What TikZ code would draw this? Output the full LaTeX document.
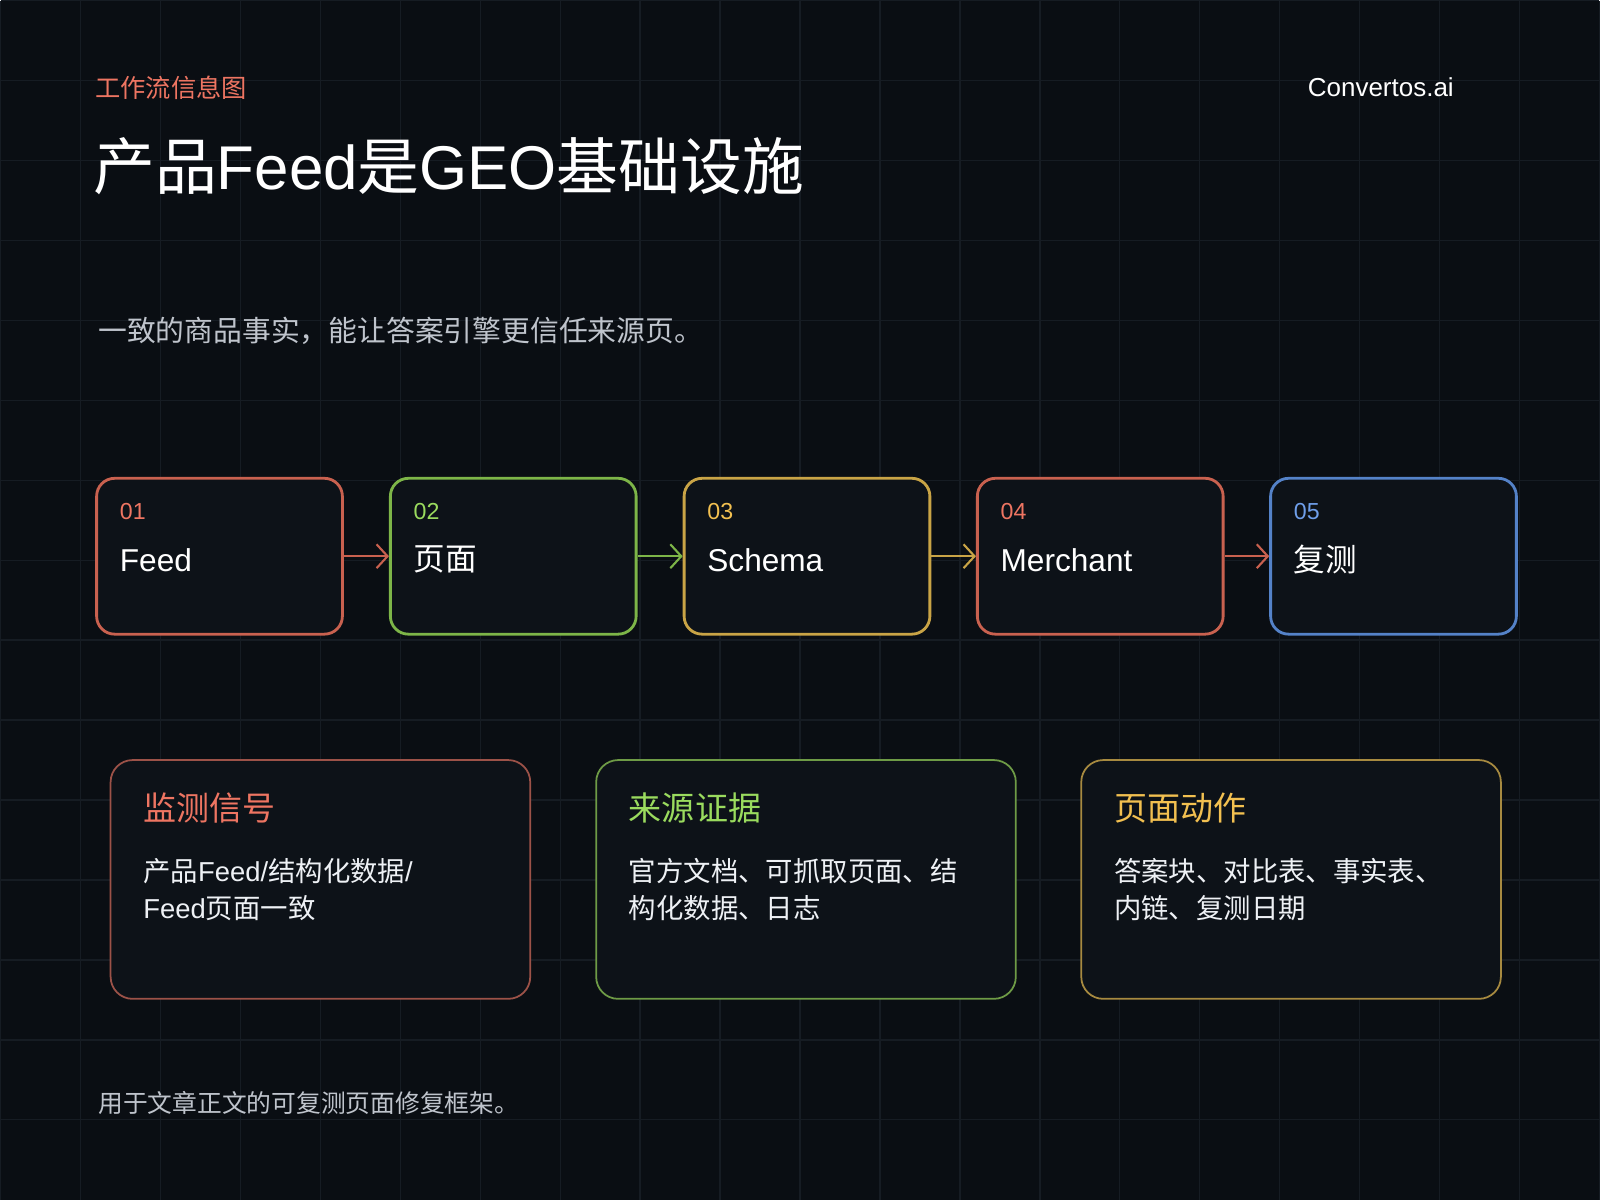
\documentclass[tikz,border=0pt]{standalone}
\usepackage{fontspec}
\setmainfont{Liberation Sans}
\newfontfamily\cjk{Noto Sans CJK SC}
\newcommand{\zh}[1]{{\cjk #1}}
\usetikzlibrary{arrows.meta,positioning,calc}
\definecolor{bgcol}{HTML}{0A0E13}
\definecolor{gridcol}{HTML}{161C23}
\definecolor{boxfill}{HTML}{0D1218}
\definecolor{redline}{HTML}{C9614F}
\definecolor{greenline}{HTML}{7DB548}
\definecolor{yellowline}{HTML}{C9A446}
\definecolor{blueline}{HTML}{5482C8}
\definecolor{redtext}{HTML}{EE7562}
\definecolor{greentext}{HTML}{9ADB5E}
\definecolor{yellowtext}{HTML}{F2C050}
\definecolor{bluetext}{HTML}{6F9FEA}
\definecolor{greytext}{HTML}{BFC4CC}
\definecolor{bodytext}{HTML}{EEF1F5}
\definecolor{cardred}{HTML}{9C5248}
\definecolor{cardgreen}{HTML}{6E9B46}
\definecolor{cardyellow}{HTML}{A78A40}
\tikzset{
  stepbox/.style={rectangle, rounded corners=0.18cm, line width=0.8pt, fill=boxfill,
    minimum width=2.46cm, minimum height=1.56cm},
  card/.style={rectangle, rounded corners=0.22cm, line width=0.5pt, fill=boxfill,
    minimum width=4.2cm, minimum height=2.39cm},
  num/.style={anchor=west, inner sep=0pt, font=\fontsize{6.6}{7}\selectfont},
  steplbl/.style={anchor=west, inner sep=0pt, text=white, font=\fontsize{9.0}{10}\selectfont},
  cardhead/.style={anchor=west, inner sep=0pt, font=\cjk\fontsize{9.4}{11}\selectfont},
  cardbody/.style={anchor=west, inner sep=0pt, align=left, text=bodytext,
    font=\fontsize{7.8}{10.5}\selectfont},
  link/.style={-{Straight Barb[length=1.1mm, width=2.4mm]}, line width=0.6pt},
}
\begin{document}
\begin{tikzpicture}
  % background and grid
  \fill[bgcol] (0,0) rectangle (16,-12);
  \draw[gridcol, line width=0.4pt, step=0.8] (0,0) grid (16,-12);
  \useasboundingbox (0,0) rectangle (16,-12);
  % header
  \node[anchor=west, inner sep=0pt, text=redtext, font=\cjk\fontsize{7.2}{8}\selectfont] (kicker)
    at (0.94,-0.87) {工作流信息图};
  \node[anchor=east, inner sep=0pt, text=white, font=\fontsize{7.4}{9}\selectfont] (brand)
    at (14.55,-0.87) {Convertos.ai};
  \node[anchor=west, inner sep=0pt, text=white, font=\fontsize{17.6}{20}\selectfont] (title)
    at (0.92,-1.66) {\zh{产品}Feed\zh{是}GEO\zh{基础设施}};
  \node[anchor=west, inner sep=0pt, text=greytext, font=\cjk\fontsize{8.2}{9}\selectfont] (lead)
    at (0.97,-3.30) {一致的商品事实，能让答案引擎更信任来源页。};
  % workflow steps
  \foreach \i/\x/\lc/\tc/\lbl in {1/2.19/redline/redtext/Feed, 2/5.13/greenline/greentext/\zh{页面},
      3/8.07/yellowline/yellowtext/Schema, 4/11.005/redline/redtext/Merchant,
      5/13.94/blueline/bluetext/\zh{复测}} {
    \node[stepbox, draw=\lc] (s\i) at (\x,-5.56) {};
    \node[num, text=\tc] (n\i) at ($(s\i.north west)+(0.24,-0.35)$) {0\i};
    \node[steplbl] (l\i) at ($(s\i.north west)+(0.24,-0.83)$) {\lbl};
  }
  \foreach \i/\j/\c in {1/2/redline, 2/3/greenline, 3/4/yellowline, 4/5/redline}
    \draw[link, \c] (s\i.east) -- (s\j.west);
  % cards
  \node[card, draw=cardred] (c1) at (3.20,-8.795) {};
  \node[cardhead, text=redtext] (h1) at ($(c1.north west)+(0.33,-0.49)$) {监测信号};
  \node[cardbody] (b1) at ($(c1.north west)+(0.33,-1.305)$)
    {\zh{产品}Feed/\zh{结构化数据}/\\Feed\zh{页面一致}};
  \node[card, draw=cardgreen] (c2) at (8.06,-8.795) {};
  \node[cardhead, text=greentext] (h2) at ($(c2.north west)+(0.33,-0.49)$) {来源证据};
  \node[cardbody, font=\cjk\fontsize{7.8}{10.5}\selectfont] (b2) at ($(c2.north west)+(0.33,-1.305)$)
    {官方文档、可抓取页面、结\\构化数据、日志};
  \node[card, draw=cardyellow] (c3) at (12.915,-8.795) {};
  \node[cardhead, text=yellowtext] (h3) at ($(c3.north west)+(0.33,-0.49)$) {页面动作};
  \node[cardbody, font=\cjk\fontsize{7.8}{10.5}\selectfont] (b3) at ($(c3.north west)+(0.33,-1.305)$)
    {答案块、对比表、事实表、\\内链、复测日期};
  % footer
  \node[anchor=west, inner sep=0pt, text=greytext, font=\cjk\fontsize{7.05}{8}\selectfont] (foot)
    at (0.97,-11.03) {用于文章正文的可复测页面修复框架。};
\end{tikzpicture}
\end{document}
